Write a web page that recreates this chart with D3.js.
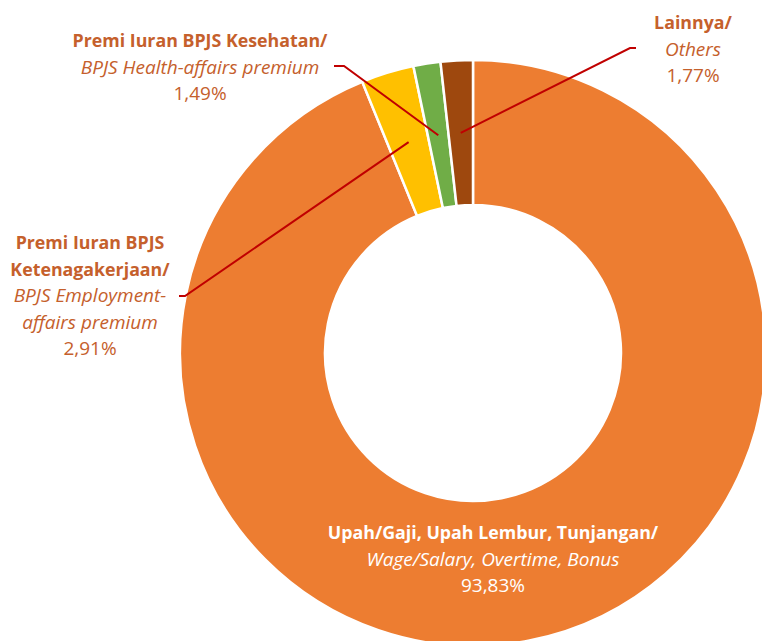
<!DOCTYPE html>
<html><head><meta charset="utf-8">
<script src="https://cdn.jsdelivr.net/npm/d3@7"></script>
<style>body{margin:0;background:#fff}svg{display:block}</style>
</head><body>
<svg id="c" width="762" height="641"></svg>
<script>
const categories = [
  ["Upah/Gaji, Upah Lembur, Tunjangan/", "Wage/Salary, Overtime, Bonus"],
  ["Premi Iuran BPJS", "Ketenagakerjaan/", "BPJS Employment-", "affairs premium"],
  ["Premi Iuran BPJS Kesehatan/", "BPJS Health-affairs premium"],
  ["Lainnya/", "Others"]
];
const boldLines = [1, 2, 1, 1];
const values = [93.83, 2.91, 1.49, 1.77];
const valueLabels = ["93,83%", "2,91%", "1,49%", "1,77%"];
const colors = ["#ED7D31", "#FFC000", "#70AD47", "#9E480E"];

// layout (positions only)
const cx = 473, cy = 353, rOuter = 293, rInner = 148;
const labelPos = [
  {x: 493, y: 539, fill: "#ffffff"},
  {x: 90, y: 249, fill: "#C5602C", line: [[179, 296], [185, 296]]},
  {x: 200, y: 47, fill: "#C5602C", line: [[334, 66], [344, 66]]},
  {x: 693, y: 29, fill: "#C5602C", line: [[636, 48], [630, 48]]}
];
const lineH = 26.5;

const svg = d3.select("#c");
const g = svg.append("g").attr("transform", `translate(${cx},${cy})`);
const pie = d3.pie().sort(null).value(d => d);
const arcs = pie(values);
const arc = d3.arc().innerRadius(rInner).outerRadius(rOuter);
const midArc = d3.arc().innerRadius((rInner + rOuter) / 2).outerRadius((rInner + rOuter) / 2);

g.selectAll("path.slice").data(arcs).join("path")
  .attr("class", "slice")
  .attr("d", arc)
  .attr("fill", (d, i) => colors[i])
  .attr("stroke", "#fff")
  .attr("stroke-width", 2.5);

// leader lines
arcs.forEach((d, i) => {
  const lp = labelPos[i];
  if (!lp.line) return;
  const c = midArc.centroid(d);
  const pts = [lp.line[0], lp.line[1], [cx + c[0], cy + c[1]]];
  svg.append("path")
    .attr("d", d3.line()(pts))
    .attr("fill", "none")
    .attr("stroke", "#C00000")
    .attr("stroke-width", 2);
});

// labels
categories.forEach((lines, i) => {
  const lp = labelPos[i];
  const t = svg.append("text")
    .attr("text-anchor", "middle")
    .attr("fill", lp.fill)
    .style("font-family", "'Open Sans', sans-serif")
    .style("font-size", "19px");
  const all = lines.concat([valueLabels[i]]);
  all.forEach((s, k) => {
    const ts = t.append("tspan").attr("x", lp.x).attr("y", lp.y + k * lineH).text(s);
    if (k < boldLines[i]) ts.style("font-weight", "bold").style("font-size", "17.8px");
    else if (k < lines.length) ts.style("font-style", "italic");
  });
});
</script>
</body></html>
